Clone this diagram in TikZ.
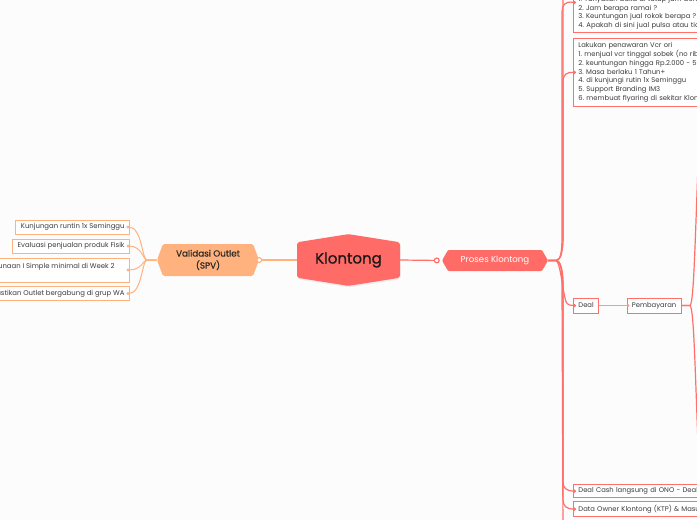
\documentclass[tikz,border=0pt]{standalone}
\usepackage{fontspec}
\setmainfont{Poppins}
\newfontfamily\rootfont[FakeBold=0.9]{Poppins}
\newfontfamily\medfont[FakeBold=0.35]{Poppins}
\usetikzlibrary{shapes.symbols,arrows.meta,positioning,shadows}
\definecolor{bgcol}{HTML}{FCFCFC}
\definecolor{klred}{HTML}{FF6B66}
\definecolor{lnred}{HTML}{FF706B}
\definecolor{subred}{HTML}{FF9893}
\definecolor{orng}{HTML}{FFB27E}
\definecolor{txtgray}{HTML}{3A3A3A}
\frenchspacing
\begin{document}
\begin{tikzpicture}[x=1pt, y=1pt, node distance=68pt]
    \tikzstyle{root} = [signal, signal to=north and south, signal pointer angle=162, fill=klred, minimum width=103pt, minimum height=46pt, rounded corners=2pt, inner sep=0pt, text=black!90, font=\rootfont\fontsize{15}{18}\selectfont, drop shadow={opacity=0.12, shadow xshift=0.6pt, shadow yshift=-1.5pt}]
    \tikzstyle{spv} = [signal, signal to=west and east, signal pointer angle=139, fill=orng, minimum width=102pt, minimum height=32pt, rounded corners=1.5pt, inner sep=0pt, align=center, text=black!85, font=\medfont\fontsize{8.8}{12}\selectfont]
    \tikzstyle{proses} = [signal, signal to=west and east, signal pointer angle=120, fill=klred, minimum width=106pt, minimum height=21pt, rounded corners=1pt, inner sep=0pt, text=white, font=\fontsize{8.6}{10}\selectfont]
    \tikzstyle{leftbox} = [rectangle, draw=orng, fill=white, line width=0.9pt, inner xsep=5pt, inner ysep=2pt, minimum height=14pt, text=txtgray, font=\fontsize{6.9}{8.8}\selectfont]
    \tikzstyle{rightbox} = [rectangle, draw=lnred, fill=white, line width=0.9pt, inner xsep=5pt, inner ysep=3pt, minimum height=12pt, text=txtgray, align=left, font=\fontsize{6.8}{8.8}\selectfont]
    \tikzstyle{oline} = [draw=orng, line width=1pt, shorten >=-3.5pt, -{Circle[length=3pt]}]
    \tikzstyle{rline} = [draw=lnred, line width=1.2pt, shorten >=-3pt, -{Circle[length=3pt]}]

    \useasboundingbox (0,0) rectangle (697,-520);
    \clip (0,0) rectangle (697,-520);
    \fill[bgcol] (0,0) rectangle (697,-520);

    % Central topic
    \node [root] (klontong) at (348.5,-260) {Klontong};

    % Main branches
    \node [spv] (validasi) at (208,-260) {Validasi Outlet\\(SPV)};
    \node [proses] (proses) at (495,-260.5) {Proses Klontong};

    % Validasi children
    \node [leftbox, anchor=east] (kunjungan) at (130,-227) {Kunjungan runtin 1x Seminggu};
    \node [leftbox, anchor=east] (evaluasi) at (130,-246) {Evaluasi penjualan produk Fisik};
    \node [leftbox, anchor=east, align=left, minimum height=24pt] (penggunaan) at (130,-270) {Penggunaan I Simple minimal di Week 2\hspace*{10pt}\\\mbox{}};
    \node [leftbox, anchor=east] (pastikan) at (130,-293.5) {Pastikan Outlet bergabung di grup WA};

    % Proses children
    \node [rightbox, anchor=south west, text width=200pt] (tanya) at (573,-33) {\mbox{}\\\mbox{}\\\mbox{}\\1. Tanyakan buka di tutup jam berapa ?\\2. Jam berapa ramai ?\\3. Keuntungan jual rokok berapa ?\\4. Apakah di sini jual pulsa atau tidak ?};
    \node [rightbox, anchor=north west, text width=200pt, inner ysep=4pt] (penawaran) at (573,-38) {Lakukan penawaran Vcr ori\\1. menjual vcr tinggal sobek (no ribet)\\2. keuntungan hingga Rp.2.000 - 5.000\\3. Masa berlaku 1 Tahun+\\4. di kunjungi rutin 1x Seminggu\\5. Support Branding IM3\\6. membuat flyaring di sekitar Klontong};
    \node [rightbox, anchor=west, minimum height=15pt] (deal) at (573,-305.5) {Deal};
    \node [rightbox, right of=deal, minimum height=15pt] (pembayaran) {Pembayaran};
    \node [rightbox, anchor=west, text width=200pt] (cash) at (573,-491) {Deal Cash langsung di ONO - Deal};
    \node [rightbox, anchor=west, text width=200pt] (owner) at (573,-509) {Data Owner Klontong (KTP) \& Masukkan};

    % Branch points
    \coordinate (jl) at (147,-260);
    \coordinate (jr) at (556,-260.5);
    \coordinate (jp) at (690,-305.5);
    \coordinate (atas) at (563,15);
    \coordinate (bawah) at (563,-535);
    \coordinate (atas2) at (699,-140);
    \coordinate (bawah2) at (699,-470);

    % Connections
    \draw [orng, line width=1.2pt, {Circle[open, fill=white, length=6pt]}-, shorten <=-3pt] (validasi.east) -- (klontong.west);
    \draw [lnred, line width=1.2pt, {Circle[open, fill=white, length=6pt]}-, shorten <=2pt] (proses.west) -- (klontong.east);

    \draw [oline] (validasi.west) -- (jl) .. controls (142,-260) and (142,-227) .. (kunjungan.east);
    \draw [oline] (validasi.west) -- (jl) .. controls (143,-260) and (142,-246) .. (evaluasi.east);
    \draw [oline] (validasi.west) -- (jl) .. controls (143,-260) and (142,-270) .. (penggunaan.east);
    \draw [oline] (validasi.west) -- (jl) .. controls (142,-260) and (142,-293.5) .. (pastikan.east);

    \draw [rline, -] (proses.east) -- (jr) .. controls (561,-260.5) and (563,-250) .. (563,-236) -- (atas);
    \draw [rline] (proses.east) -- (jr) .. controls (561,-260.5) and (562,-250) .. (562,-236) -- (562,-12) .. controls (562,-5) and (565,-1) .. (tanya.west);
    \draw [rline] (proses.east) -- (jr) .. controls (561,-260.5) and (563,-250) .. (563,-236) -- (563,-82) .. controls (563,-75) and (566,-72) .. (penawaran.west);
    \draw [rline] (proses.east) -- (jr) .. controls (560,-262) and (562,-285) .. (565,-298) .. controls (566,-303) and (567,-305.5) .. (deal.west);
    \draw [rline] (proses.east) -- (jr) .. controls (561,-260.5) and (563,-272) .. (563,-286) -- (563,-481) .. controls (563,-488) and (566,-491) .. (cash.west);
    \draw [rline] (proses.east) -- (jr) .. controls (561,-260.5) and (563,-272) .. (563,-286) -- (563,-499) .. controls (563,-506) and (566,-509) .. (owner.west);
    \draw [rline, -] (proses.east) -- (jr) .. controls (561,-260.5) and (562,-272) .. (562,-286) -- (bawah);

    \draw [rline, draw=subred, line width=1pt] (deal) -- (pembayaran);
    \draw [rline, -] (pembayaran.east) -- (jp) .. controls (694,-303) and (695,-240) .. (atas2);
    \draw [rline, -] (pembayaran.east) -- (jp) .. controls (694,-308) and (695,-370) .. (bawah2);
\end{tikzpicture}
\end{document}
